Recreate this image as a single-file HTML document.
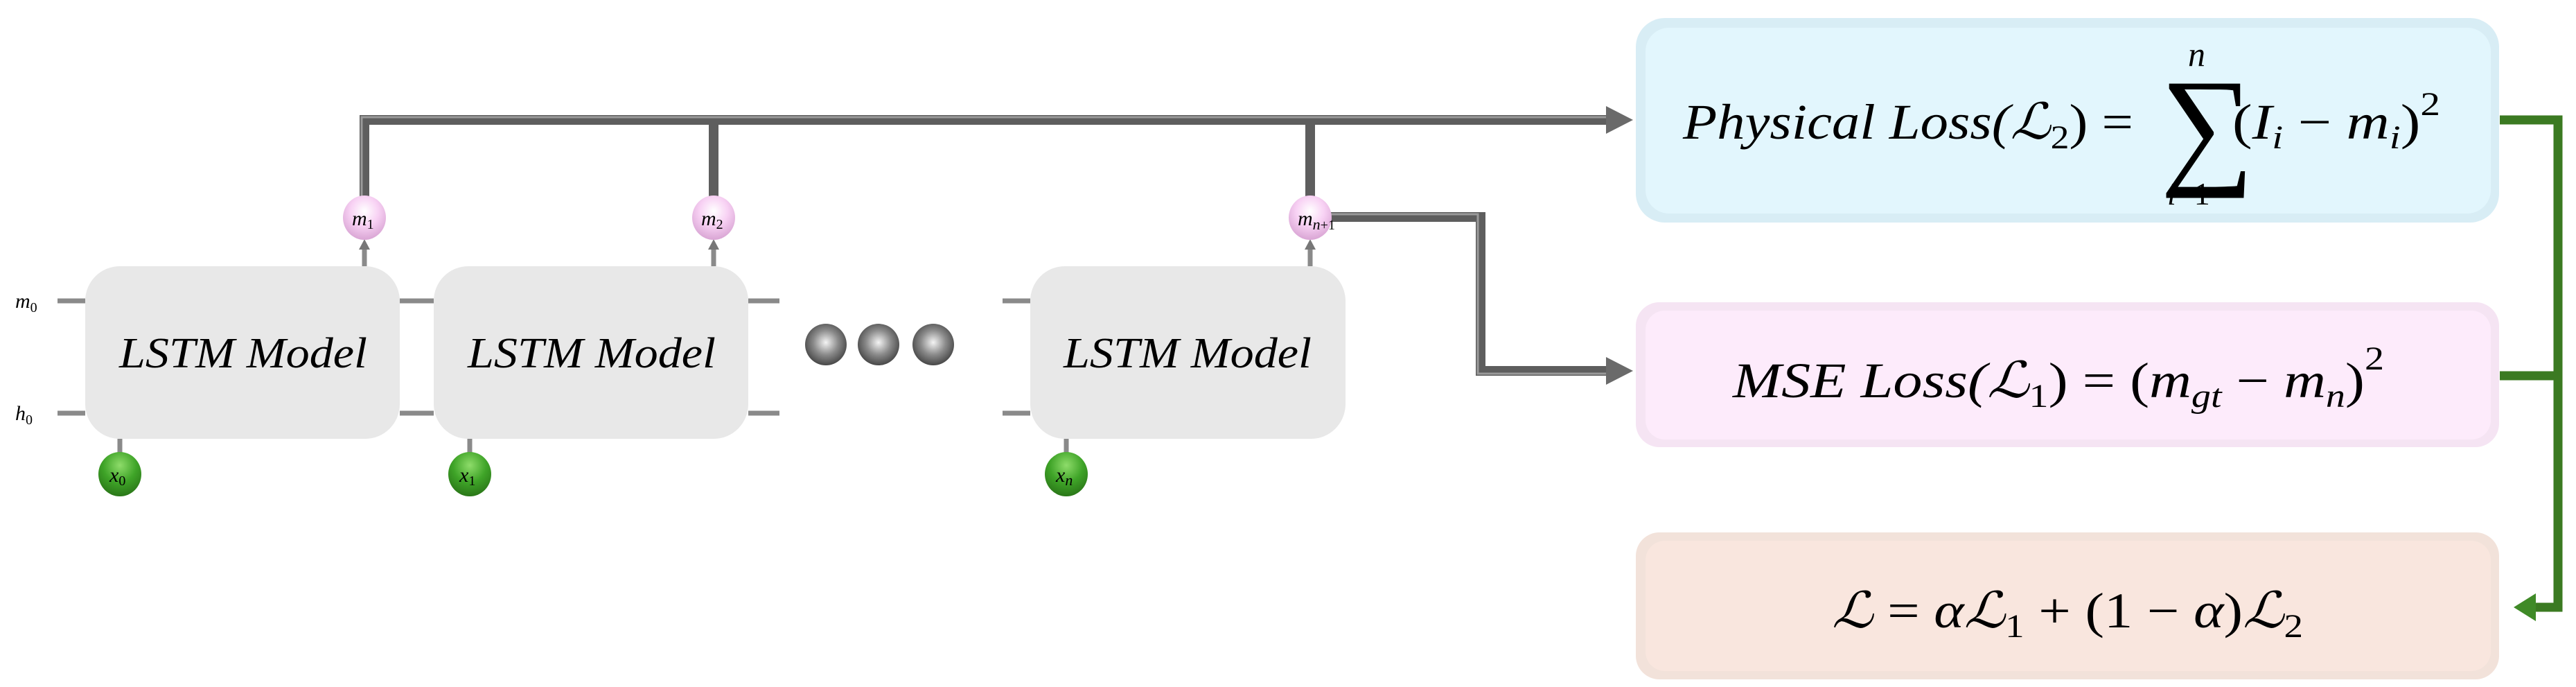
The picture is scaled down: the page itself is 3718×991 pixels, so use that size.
<!DOCTYPE html>
<html><head><meta charset="utf-8"><style>
html,body{margin:0;padding:0;background:#fff;}
svg{display:block;}
text{font-family:"Liberation Serif","DejaVu Serif",serif;font-style:italic;fill:#000;}
.up{font-style:normal;}
</style></head><body>
<svg width="3718" height="991" viewBox="0 0 3718 991" xmlns="http://www.w3.org/2000/svg">
<defs>
<radialGradient id="sph" cx="0.5" cy="0.45" r="0.6"><stop offset="0" stop-color="#f4f4f4"/><stop offset="0.5" stop-color="#8a8a8a"/><stop offset="1" stop-color="#3a3a3a"/></radialGradient>
<radialGradient id="pink" cx="0.5" cy="0.35" r="0.65"><stop offset="0" stop-color="#fff"/><stop offset="0.5" stop-color="#f8d2f4"/><stop offset="1" stop-color="#d9a5d4"/></radialGradient>
<radialGradient id="grn" cx="0.5" cy="0.3" r="0.7"><stop offset="0" stop-color="#8edc6a"/><stop offset="0.55" stop-color="#3fa428"/><stop offset="1" stop-color="#2a7718"/></radialGradient>
</defs>

<!-- gray connectors -->
<g fill="none" stroke-linejoin="miter">
<g stroke="#5e5e5e" stroke-width="14">
<polyline points="526,283 526,173 2320,173"/>
<polyline points="1030,283 1030,173"/>
<polyline points="1891,283 1891,173"/>
<polyline points="1915,313 2137,313 2137,535 2320,535"/>
</g>
<g stroke="#9a9a9a" stroke-width="3">
<polyline points="522,283 522,169 2320,169"/>
<polyline points="1915,309 2133,309 2133,539 2320,539"/>
</g>
</g>
<polygon points="2318,153 2357,173 2318,193" fill="#6a6a6a"/>
<polygon points="2318,515 2357,535 2318,555" fill="#6a6a6a"/>

<!-- green connector -->
<g fill="none" stroke="#3b7a22" stroke-width="13">
<polyline points="3608,173 3692,173 3692,876 3650,876"/>
<polyline points="3608,542 3692,542"/>
</g>
<polygon points="3628,876 3660,856 3660,896" fill="#3f8a27"/>

<!-- small h/m input lines -->
<g stroke="#8a8a8a" stroke-width="7">
<line x1="83" y1="434" x2="123" y2="434"/><line x1="83" y1="596" x2="123" y2="596"/>
<line x1="577" y1="434" x2="626" y2="434"/><line x1="577" y1="596" x2="626" y2="596"/>
<line x1="1080" y1="434" x2="1125" y2="434"/><line x1="1080" y1="596" x2="1125" y2="596"/>
<line x1="1447" y1="434" x2="1487" y2="434"/><line x1="1447" y1="596" x2="1487" y2="596"/>
<line x1="173" y1="633" x2="173" y2="655"/><line x1="678" y1="633" x2="678" y2="655"/><line x1="1539" y1="633" x2="1539" y2="655"/>
<line x1="526" y1="384" x2="526" y2="358"/><line x1="1030" y1="384" x2="1030" y2="358"/><line x1="1891" y1="384" x2="1891" y2="358"/>
</g>
<g fill="#777"><polygon points="518,360 534,360 526,345"/><polygon points="1022,360 1038,360 1030,345"/><polygon points="1883,360 1899,360 1891,345"/></g>

<!-- LSTM boxes -->
<g fill="#e8e8e8">
<rect x="123" y="384" width="454" height="249" rx="50"/>
<rect x="626" y="384" width="454" height="249" rx="50"/>
<rect x="1487" y="384" width="455" height="249" rx="50"/>
</g>
<g font-size="62">
<text x="172" y="530" textLength="358" lengthAdjust="spacingAndGlyphs">LSTM Model</text>
<text x="675" y="530" textLength="358" lengthAdjust="spacingAndGlyphs">LSTM Model</text>
<text x="1535" y="530" textLength="358" lengthAdjust="spacingAndGlyphs">LSTM Model</text>
</g>

<!-- labels m0 h0 -->
<text x="22" y="444" font-size="30">m<tspan class="up" font-size="20" dy="6">0</tspan></text>
<text x="22" y="606" font-size="30">h<tspan class="up" font-size="20" dy="6">0</tspan></text>

<!-- pink nodes -->
<ellipse cx="526" cy="314" rx="31" ry="32" fill="url(#pink)"/>
<ellipse cx="1030" cy="314" rx="31" ry="32" fill="url(#pink)"/>
<ellipse cx="1891" cy="314" rx="31" ry="32" fill="url(#pink)"/>
<text x="508" y="325" font-size="30">m<tspan class="up" font-size="20" dy="5">1</tspan></text>
<text x="1012" y="325" font-size="30">m<tspan class="up" font-size="20" dy="5">2</tspan></text>
<text x="1873" y="325" font-size="30">m<tspan font-size="22" dy="6">n</tspan><tspan class="up" font-size="20">+1</tspan></text>

<!-- green nodes -->
<ellipse cx="173" cy="684" rx="31" ry="32" fill="url(#grn)"/>
<ellipse cx="678" cy="684" rx="31" ry="32" fill="url(#grn)"/>
<ellipse cx="1539" cy="684" rx="31" ry="32" fill="url(#grn)"/>
<text x="158" y="695" font-size="30">x<tspan class="up" font-size="20" dy="5">0</tspan></text>
<text x="663" y="695" font-size="30">x<tspan class="up" font-size="20" dy="5">1</tspan></text>
<text x="1524" y="695" font-size="30">x<tspan font-size="22" dy="5">n</tspan></text>

<!-- spheres -->
<circle cx="1192" cy="497" r="30" fill="url(#sph)"/>
<circle cx="1268" cy="497" r="30" fill="url(#sph)"/>
<circle cx="1347" cy="497" r="30" fill="url(#sph)"/>

<!-- loss boxes -->
<rect x="2361" y="26" width="1246" height="295" rx="42" fill="#d8edf5"/>
<rect x="2375" y="40" width="1220" height="268" rx="34" fill="#e2f6fd"/>
<rect x="2361" y="436" width="1246" height="209" rx="34" fill="#f5e4f3"/>
<rect x="2375" y="448" width="1220" height="186" rx="28" fill="#fdebfb"/>
<rect x="2361" y="768" width="1246" height="212" rx="34" fill="#f2e2da"/>
<rect x="2375" y="780" width="1220" height="188" rx="28" fill="#f9e6de"/>

<!-- formulas -->
<text x="2429" y="200" font-size="72" textLength="650" lengthAdjust="spacingAndGlyphs">Physical Loss(ℒ<tspan class="up" font-size="48" dy="14">2</tspan><tspan class="up" dy="-14">) =</tspan></text>
<text x="3118" y="245" font-size="190" class="up">∑</text>
<text x="3158" y="95" font-size="50">n</text>
<text x="3128" y="295" font-size="46">i<tspan class="up">=1</tspan></text>
<text x="3222" y="200" font-size="72" textLength="300" lengthAdjust="spacingAndGlyphs"><tspan class="up">(</tspan>I<tspan font-size="48" dy="14">i</tspan><tspan class="up" dy="-14"> − </tspan>m<tspan font-size="48" dy="14">i</tspan><tspan class="up" dy="-14">)</tspan><tspan class="up" font-size="48" dy="-34">2</tspan></text>

<text x="2501" y="573" font-size="72" textLength="940" lengthAdjust="spacingAndGlyphs">MSE Loss(ℒ<tspan class="up" font-size="48" dy="14">1</tspan><tspan class="up" dy="-14">) = (</tspan>m<tspan font-size="48" dy="14">gt</tspan><tspan class="up" dy="-14"> − </tspan>m<tspan font-size="48" dy="14">n</tspan><tspan class="up" dy="-14">)</tspan><tspan class="up" font-size="48" dy="-40">2</tspan></text>

<text x="2644" y="905" font-size="72" textLength="680" lengthAdjust="spacingAndGlyphs">ℒ <tspan class="up">=</tspan> αℒ<tspan class="up" font-size="48" dy="14">1</tspan><tspan class="up" dy="-14"> + (1 − </tspan>α<tspan class="up">)</tspan>ℒ<tspan class="up" font-size="48" dy="14">2</tspan></text>
</svg>
</body></html>
